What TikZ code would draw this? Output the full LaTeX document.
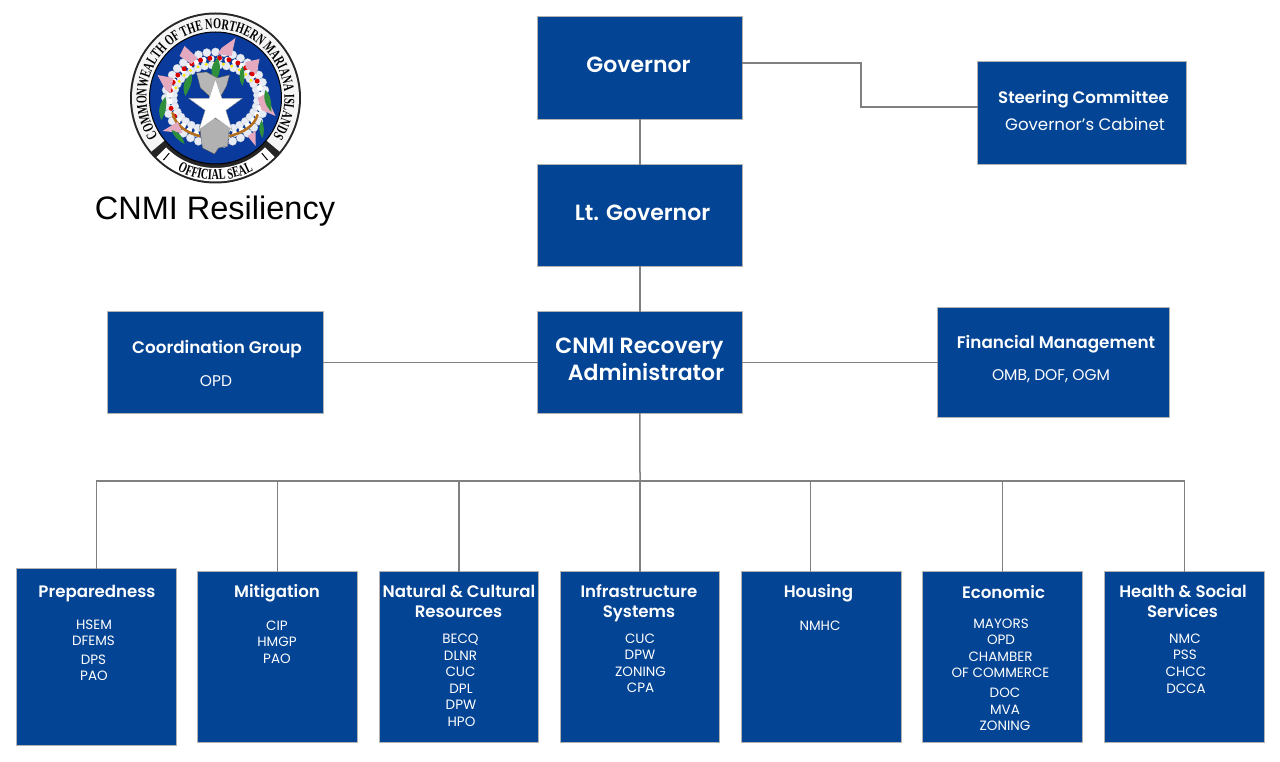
\documentclass[tikz,border=0pt]{standalone}
\usepackage{fontspec}
\setmainfont{Poppins}[BoldFont={* SemiBold}]
\newfontfamily\arialf{Liberation Sans}
\newfontfamily\sealf{Liberation Serif}[FakeStretch=0.68]
\usetikzlibrary{decorations.text}
\definecolor{boxblue}{HTML}{044494}
\definecolor{linegray}{HTML}{808080}
\definecolor{sealblue}{HTML}{0A3A9C}
\definecolor{pinkf}{HTML}{E4A9BE}
\definecolor{leafg}{HTML}{2F8F3A}
\definecolor{rope}{HTML}{B5701F}
\definecolor{latte}{HTML}{A9A9A9}
\definecolor{bead}{HTML}{E6EBF6}
\tikzset{
 orgbox/.style={draw=linegray!60,line width=0.8pt,fill=boxblue,inner sep=0pt,outer sep=0pt,minimum width=#1},
 link/.style={draw=linegray,line width=1.5pt},
 ttl/.style={text=white,font=\fontsize{#1}{#1}\selectfont\bfseries,inner sep=0pt,anchor=base},
 lbl/.style={text=white,font=\fontsize{#1}{#1}\selectfont,inner sep=0pt,anchor=base},
}
\newcommand{\orgb}[5]{\node[orgbox=#4 pt-#2 pt,minimum height=#5 pt-#3 pt,anchor=north west] (#1) at (#2,#3) {};}
\begin{document}
\begin{tikzpicture}[x=1pt,y=-1pt]
\useasboundingbox (0,0) rectangle (1280,762);
\fill[white] (0,0) rectangle (1280,762);
\coordinate (bus) at (640,481);
\coordinate (elbowa) at (861,63);
\coordinate (elbowb) at (861,107);
\orgb{gov}{537.8}{16.8}{742}{119}
\orgb{steer}{977.8}{61.8}{1186}{164}
\orgb{lt}{537.8}{164.8}{742}{266}
\orgb{rec}{537.8}{311.8}{742}{413}
\orgb{coord}{107.8}{311.8}{323}{413}
\orgb{fin}{937.8}{307.8}{1169}{417}
\orgb{prep}{16.8}{568.8}{176}{745}
\orgb{miti}{197.8}{571.8}{357}{742}
\orgb{nat}{379.8}{571.8}{538}{742}
\orgb{infra}{560.8}{571.8}{719}{742}
\orgb{hous}{741.8}{571.8}{901}{742}
\orgb{econ}{922.8}{571.8}{1082}{742}
\orgb{heal}{1104.8}{571.8}{1264}{742}
\draw[link] (gov.east |- elbowa) -- (elbowa) -- (elbowb) -- (steer.west |- elbowb);
\draw[link] (gov) -- (lt);
\draw[link] (lt) -- (rec);
\draw[link] (coord) -- (rec);
\draw[link] (rec) -- (fin);
\draw[link] (rec) -- (bus);
\draw[link] (prep.north) -- (prep.north |- bus) -- (heal.north |- bus) -- (heal.north);
\draw[link] (miti.north) -- (miti.north |- bus);
\draw[link] (nat.north) -- (nat.north |- bus);
\draw[link] (infra.north) -- (infra.north |- bus);
\draw[link] ([xshift=-11pt]hous.north) -- ([xshift=-11pt]hous.north |- bus);
\draw[link] (econ.north) -- (econ.north |- bus);
% top texts
\node[ttl=22] (t1) at (638.5,73) {Governor};
\node[ttl=22] (t2) at (642.5,221) {Lt. Governor};
\node[ttl=22] (t3) at (639.5,353) {CNMI Recovery};
\node[ttl=22] (t4) at (646,380) {Administrator};
\node[ttl=16.6] (t5) at (1083.5,104) {Steering Committee};
\node[lbl=16.6] (t6) at (1085,131) {Governor’s Cabinet};
\node[ttl=16.8] (t7) at (217,353) {Coordination Group};
\node[lbl=15.5] (t8) at (216,386) {OPD};
\node[ttl=16.8] (t9) at (1056,348) {Financial Management};
\node[lbl=15.5] (t10) at (1051,380) {OMB, DOF, OGM};
% bottom titles
\node[ttl=16.6] (a0) at (97,597) {Preparedness};
\node[lbl=13.5] (a1) at (94,629) {HSEM};
\node[lbl=13.5] (a2) at (93.5,645) {DFEMS};
\node[lbl=13.5] (a3) at (93.5,664) {DPS};
\node[lbl=13.5] (a4) at (94,680) {PAO};
\node[ttl=16.6] (b0) at (277,597) {Mitigation};
\node[lbl=13.5] (b1) at (277,630) {CIP};
\node[lbl=13.5] (b2) at (277,646) {HMGP};
\node[lbl=13.5] (b3) at (277,663) {PAO};
\node[ttl=16.6] (c0) at (459,597) {Natural \& Cultural};
\node[ttl=16.6] (c1) at (458.5,617) {Resources};
\node[lbl=13.5] (c2) at (460.5,643) {BECQ};
\node[lbl=13.5] (c5) at (460.5,660) {DLNR};
\node[lbl=13.5] (c6) at (460.5,676) {CUC};
\node[lbl=13.5] (c7) at (461,693) {DPL};
\node[lbl=13.5] (c8) at (461,709) {DPW};
\node[lbl=13.5] (c9) at (461.5,726) {HPO};
\node[ttl=16.6] (d0) at (639,597) {Infrastructure};
\node[ttl=16.6] (d1) at (639,617) {Systems};
\node[lbl=13.5] (d2) at (640,643) {CUC};
\node[lbl=13.5] (d3) at (640,659) {DPW};
\node[lbl=13.5] (d4) at (640.5,676) {ZONING};
\node[lbl=13.5] (d5) at (640.5,692) {CPA};
\node[ttl=16.6] (e0) at (818.5,597) {Housing};
\node[lbl=13.5] (e1) at (820,630) {NMHC};
\node[ttl=16.6] (f0) at (1003.5,598) {Economic};
\node[lbl=13.5] (f1) at (1001,628) {MAYORS};
\node[lbl=13.5] (f2) at (1001,644) {OPD};
\node[lbl=13.5] (f3) at (1000.5,661) {CHAMBER};
\node[lbl=13.5] (f4) at (1000.5,677) {OF COMMERCE};
\node[lbl=13.5] (f5) at (1005,697) {DOC};
\node[lbl=13.5] (f6) at (1005,714) {MVA};
\node[lbl=13.5] (f7) at (1005,730) {ZONING};
\node[ttl=16.6] (g0) at (1183,597) {Health \& Social};
\node[ttl=16.6] (g1) at (1182.5,617) {Services};
\node[lbl=13.5] (g2) at (1185,643) {NMC};
\node[lbl=13.5] (g3) at (1185,659) {PSS};
\node[lbl=13.5] (g4) at (1186,676) {CHCC};
\node[lbl=13.5] (g5) at (1186,693) {DCCA};
% title
\node[anchor=base,inner sep=0pt,font=\arialf\fontsize{32.5}{32.5}\selectfont] (ttlmain) at (215,220) {CNMI Resiliency};
% seal
\begin{scope}[shift={(215.5,98)},y=1pt]
\fill[black!85] (0,0) circle[radius=85.5];
\fill[white!96!black] (0,0) circle[radius=83.5];
% dark wedges and band round the banner
\fill[black!85] (-140:85) arc[start angle=-140,end angle=-40,radius=85] -- (-40:64) arc[start angle=-40,end angle=-140,radius=64] -- cycle;
\fill[white] (-135:83.5) arc[start angle=-135,end angle=-45,radius=83.5] -- (-45:70) arc[start angle=-45,end angle=-135,radius=70] -- cycle;
\path[decorate,decoration={text along path,text align=center,text={|\sealf\bfseries\fontsize{15}{15}\selectfont|COMMONWEALTH OF THE NORTHERN MARIANA ISLANDS}}]
 (-145:69) arc[start angle=215,end angle=-35,radius=69];
\path[decorate,decoration={text along path,text align=center,text={|\sealf\bfseries\fontsize{15}{15}\selectfont|OFFICIAL SEAL}}]
 (-125:82) arc[start angle=-125,end angle=-55,radius=82];
\draw[black,line width=1pt] (-130:72) -- (-130:81) (-50:72) -- (-50:81);
\fill[sealblue] (0,0) circle[radius=66];
\draw[black,line width=1pt] (0,0) circle[radius=66];
% garland
\foreach \a in {0,10,...,359} {\fill[bead,draw=gray!45,line width=0.2pt] (\a:50 and 46) circle[radius=4.2];}
\foreach \a in {5,15,...,359} {\fill[bead,draw=gray!45,line width=0.2pt] (\a:42 and 33) circle[radius=4];}
\foreach \a in {5,15,...,359} {\fill[white] (\a:46 and 39.5) circle[radius=3];}
\foreach \a in {25,37,...,175,195,207} {\fill[red!85!black] (\a:46 and 40) circle[radius=2.5];}
\foreach \a in {31,43,...,170} {\fill[yellow!90!orange] (\a:41.5 and 34.5) circle[radius=1.6];}
% rope
\draw[rope,line width=2.6pt,line cap=round] (-43,-15) .. controls (-40,-28) and (-28,-35) .. (-16,-38);
\draw[rope,line width=2.6pt,line cap=round] (14,-38) .. controls (27,-35) and (39,-28) .. (42,-17);
% flowers
\fill[pinkf] (-31,52) -- (-18,40) -- (-24,34) -- (-36,42) -- cycle;
\fill[pinkf] (20,60) -- (16,42) -- (2,44) -- (6,50) -- cycle;
\fill[pinkf] (44,39) -- (41,24) -- (30,30) -- (30,36) -- cycle;
\fill[pinkf] (-58,23) -- (-42,20) -- (-45,5) -- (-50,8) -- cycle;
\fill[pinkf] (60,-18) -- (50,4) -- (42,0) -- (46,-12) -- cycle;
\fill[pinkf] (-53,-33) -- (-38,-24) -- (-33,-35) -- cycle;
\fill[pinkf] (40,-48) -- (32,-38) -- (40,-33) -- cycle;
% leaves
\fill[leafg] (2,40) .. controls (6,32) and (5,25) .. (0,17) .. controls (-6,25) and (-5,32) .. (2,40);
\fill[leafg] (-24,24) .. controls (-22,16) and (-26,10) .. (-30,2) .. controls (-34,10) and (-32,18) .. (-24,24);
\fill[leafg] (-50,1) .. controls (-48,-8) and (-50,-14) .. (-54,-22) .. controls (-58,-14) and (-57,-6) .. (-50,1);
\fill[leafg] (27,32) .. controls (30,24) and (29,18) .. (27,12) .. controls (23,18) and (23,26) .. (27,32);
\fill[leafg] (50,8) .. controls (55,4) and (56,-4) .. (56,-14) .. controls (50,-8) and (47,0) .. (50,8);
\fill[leafg] (46,-22) .. controls (49,-28) and (49,-34) .. (47,-40) .. controls (43,-34) and (43,-28) .. (46,-22);
\fill[leafg] (-44,-32) .. controls (-42,-38) and (-38,-42) .. (-31,-46) .. controls (-32,-40) and (-36,-34) .. (-44,-32);
% latte stones
\fill[latte!85!white,draw=gray!70!black,line width=0.3pt] (-19,25) -- (-9,26) -- (2,20) -- (14,23) -- (11,12) -- (6,3) -- (-6,2) -- (-15,10) -- cycle;
\fill[latte!90!white,draw=gray!70!black,line width=0.3pt] (-16,-28) -- (-1,-20) -- (14,-28) -- (12,-48) -- (3,-50) -- (-1,-56) -- (-13,-50) -- cycle;
% star
\begin{scope}[shift={(0,-9)}]
\fill[white,draw=gray!70,line width=0.4pt] (90:28) -- (126:10.8) -- (162:28) -- (198:10.8) -- (234:28) -- (270:10.8) -- (306:28) -- (342:10.8) -- (18:28) -- (54:10.8) -- cycle;
\end{scope}
\end{scope}
\end{tikzpicture}
\end{document}
